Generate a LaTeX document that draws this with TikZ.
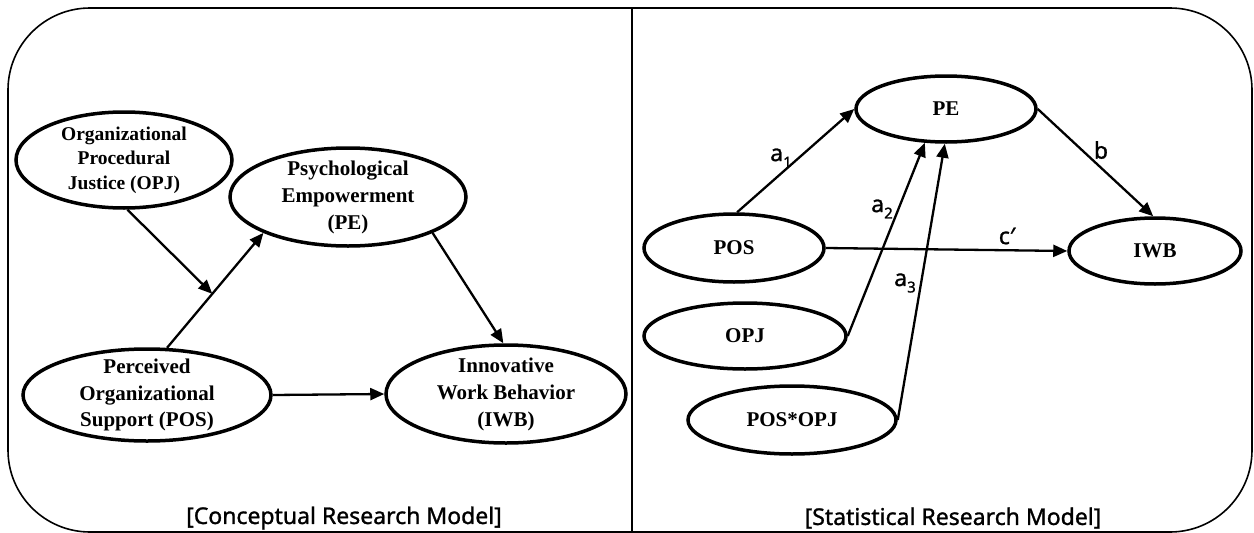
\documentclass[tikz,border=0pt]{standalone}
\usepackage{fontspec}
\setmainfont{Liberation Serif}
\newfontfamily\lblfont[FakeBold=1.2]{Noto Sans}
\usetikzlibrary{shapes.geometric,arrows.meta}
\newcommand\lsub[1]{\raisebox{-0.28em}{\fontsize{15}{15}\selectfont #1}}
\begin{document}
\begin{tikzpicture}[x=1pt,y=-1pt,
  ell/.style={draw, ellipse, line width=3.5pt, inner sep=0pt},
  txt/.style={align=center, inner sep=0pt, font=\fontsize{21}{27}\selectfont\bfseries},
  conn/.style={line width=2.3pt, -{Triangle[length=14pt,width=12pt]}},
  lbl/.style={font=\lblfont\fontsize{23}{24}\selectfont, inner sep=0pt},
  capt/.style={font=\lblfont\fontsize{23}{26}\selectfont, inner sep=0pt}]
\useasboundingbox (0,0) rectangle (1254,533);
% frame
\draw[line width=1.6pt, rounded corners=82pt] (8,8) rectangle (1252,532);
\draw[line width=2.6pt] (92,8) -- (1170,8);
\draw[line width=2.2pt] (632,8) -- (632,533);

% ---- left panel ----
\node[ell, minimum width=216pt, minimum height=96pt,
  label={[txt, font=\fontsize{19.5}{24.5}\selectfont\bfseries]center:{Organizational\\Procedural\\Justice (OPJ)}}] (opj) at (124,160) {};
\node[ell, minimum width=236pt, minimum height=98pt,
  label={[txt]center:{Psychological\\Empowerment\\(PE)}}] (pe) at (348,197) {};
\node[ell, minimum width=248pt, minimum height=92pt,
  label={[txt, font=\fontsize{21}{26.5}\selectfont\bfseries]center:{Perceived\\Organizational\\Support (POS)}}] (pos) at (147,395) {};
\node[ell, minimum width=240pt, minimum height=98pt,
  label={[txt]center:{Innovative\\Work Behavior\\(IWB)}}] (iwb) at (506,394) {};

\path (pos.67) -- (pe.-157) coordinate[pos=0.47] (mid);
\draw[conn] (pos.67) -- (pe.-157);
\draw[conn] (opj.-86) -- (mid);
\draw[conn] (pe.-23) -- (iwb.93);
\draw[conn] (pos.east) -- (iwb.west);

\node[capt] (cap1) at (344,518) {[Conceptual Research Model]};

% ---- right panel ----
\node[ell, minimum width=180pt, minimum height=66pt, label={[txt]center:{PE}}] (pe2) at (946,109) {};
\node[ell, minimum width=180pt, minimum height=68pt, label={[txt]center:{POS}}] (pos2) at (734,248) {};
\node[ell, minimum width=172pt, minimum height=66pt, label={[txt]center:{IWB}}] (iwb2) at (1155,251) {};
\node[ell, minimum width=202pt, minimum height=66pt, label={[txt]center:{OPJ}}] (opj2) at (745,336) {};
\node[ell, minimum width=208pt, minimum height=68pt, label={[txt]center:{POS*OPJ}}] (po2) at (792,420) {};

\draw[conn] (pos2.85) -- (pe2.west);
\draw[conn] (opj2.east) -- (pe2.-122);
\draw[conn] (po2.east) -- (pe2.-92);
\draw[conn] (pe2.east) -- (iwb2.93);
\draw[conn] (pos2.east) -- (iwb2.west);

\node[lbl] (la1) at (781,158) {a\lsub{1}};
\node[lbl] (la2) at (882,209) {a\lsub{2}};
\node[lbl] (la3) at (905,283) {a\lsub{3}};
\node[lbl] (lb) at (1101,150) {b};
\node[lbl] (lc) at (1007,236) {c′};

\node[capt] (cap2) at (953,518) {[Statistical Research Model]};
\end{tikzpicture}
\end{document}
